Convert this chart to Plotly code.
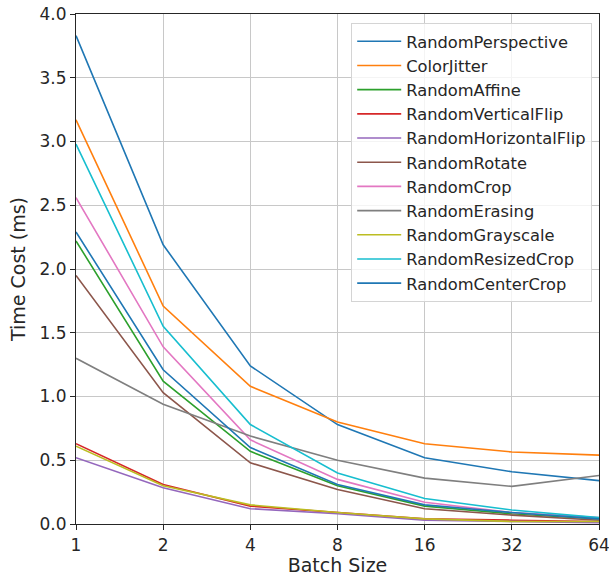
import plotly.graph_objects as go

batch_sizes = [1, 2, 4, 8, 16, 32, 64]

names = ["RandomPerspective", "ColorJitter", "RandomAffine", "RandomVerticalFlip",
         "RandomHorizontalFlip", "RandomRotate", "RandomCrop", "RandomErasing",
         "RandomGrayscale", "RandomResizedCrop", "RandomCenterCrop"]

random_perspective = [3.83, 2.19, 1.24, 0.78, 0.52, 0.41, 0.34]
color_jitter = [3.17, 1.71, 1.08, 0.80, 0.63, 0.565, 0.54]
random_affine = [2.22, 1.12, 0.57, 0.30, 0.14, 0.08, 0.04]
random_vertical_flip = [0.63, 0.31, 0.14, 0.09, 0.04, 0.03, 0.02]
random_horizontal_flip = [0.52, 0.285, 0.12, 0.08, 0.03, 0.02, 0.01]
random_rotate = [1.95, 1.03, 0.48, 0.27, 0.12, 0.07, 0.03]
random_crop = [2.56, 1.39, 0.66, 0.35, 0.17, 0.09, 0.05]
random_erasing = [1.30, 0.94, 0.69, 0.50, 0.36, 0.295, 0.38]
random_grayscale = [0.61, 0.30, 0.15, 0.09, 0.04, 0.02, 0.02]
random_resized_crop = [2.98, 1.55, 0.78, 0.40, 0.20, 0.11, 0.05]
random_center_crop = [2.29, 1.21, 0.60, 0.31, 0.15, 0.09, 0.04]

series = [random_perspective, color_jitter, random_affine, random_vertical_flip,
          random_horizontal_flip, random_rotate, random_crop, random_erasing,
          random_grayscale, random_resized_crop, random_center_crop]

colors = ["#1f77b4", "#ff7f0e", "#2ca02c", "#d62728", "#9467bd", "#8c564b",
          "#e377c2", "#7f7f7f", "#bcbd22", "#17becf", "#1f77b4"]

fig = go.Figure()
for n, s, c in zip(names, series, colors):
    fig.add_trace(go.Scatter(x=batch_sizes, y=s, mode="lines", name=n,
                             line=dict(color=c, width=1.6)))

fig.update_layout(
    width=609, height=578,
    margin=dict(l=76, r=10, t=14, b=54),
    plot_bgcolor="white", paper_bgcolor="white",
    font=dict(family="DejaVu Sans", size=17, color="#262626"),
    legend=dict(x=0.987, y=0.982, xanchor="right", yanchor="top",
                bgcolor="rgba(255,255,255,0.8)", bordercolor="#d4d4d4", borderwidth=1,
                font=dict(size=16.3, color="#262626"), itemwidth=44,
                tracegroupgap=0),
    showlegend=True,
)
fig.update_xaxes(type="log", tickvals=batch_sizes, ticktext=[str(b) for b in batch_sizes],
                 range=[0, 1.80618], showgrid=True, gridcolor="#c8c8c8", gridwidth=1,
                 showline=True, linecolor="#262626", linewidth=1.2, mirror=True,
                 ticks="outside", ticklen=5, tickcolor="#262626",
                 ticklabeloverflow="allow",
                 title=dict(text="Batch Size", font=dict(size=19), standoff=4),
                 zeroline=False, automargin=False)
fig.update_yaxes(range=[0, 4.0], tickvals=[0, 0.5, 1, 1.5, 2, 2.5, 3, 3.5, 4],
                 ticktext=["0.0", "0.5", "1.0", "1.5", "2.0", "2.5", "3.0", "3.5", "4.0"],
                 showgrid=True, gridcolor="#c8c8c8", gridwidth=1,
                 showline=True, linecolor="#262626", linewidth=1.2, mirror=True,
                 ticks="outside", ticklen=5, tickcolor="#262626",
                 ticklabeloverflow="allow",
                 title=dict(text="Time Cost (ms)", font=dict(size=19), standoff=8),
                 zeroline=False, automargin=False)

fig.write_html("out.html", config={"displayModeBar": False},
               post_script="document.body.style.margin='0';document.body.style.padding='0';")
